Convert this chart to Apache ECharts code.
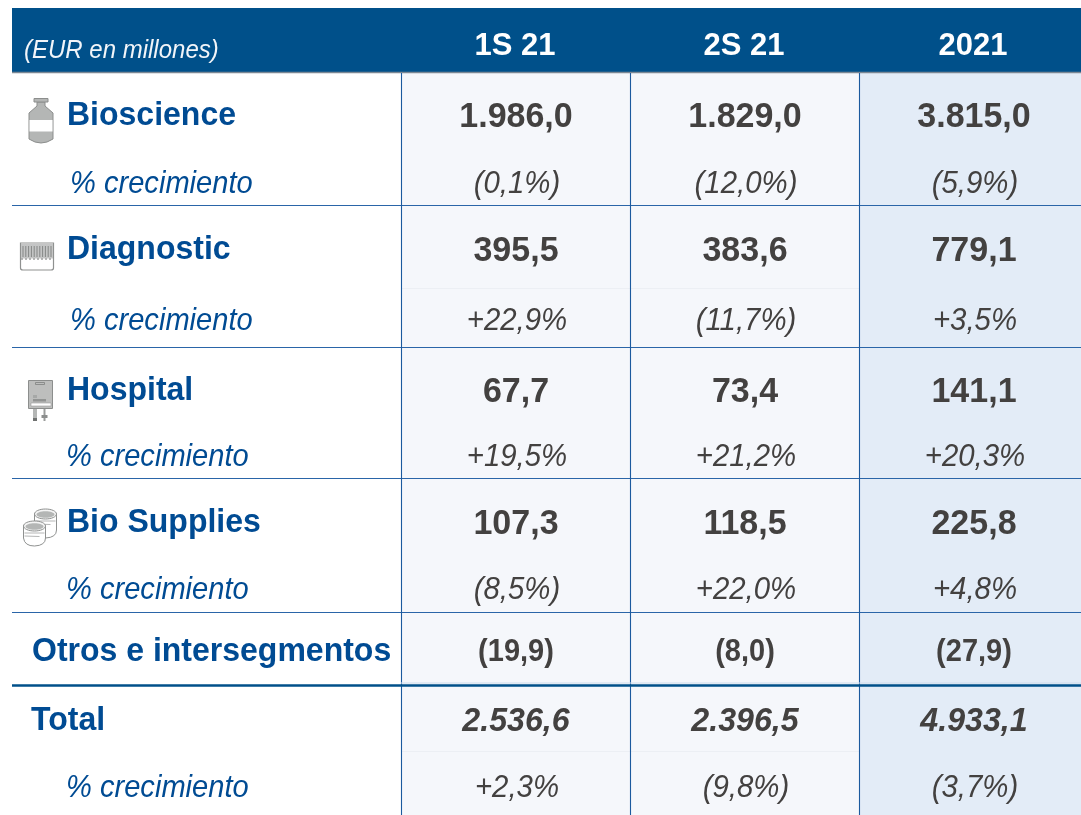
<!DOCTYPE html>
<html><head><meta charset="utf-8">
<style>html,body{margin:0;padding:0;background:#fff}#c{width:1081px;height:815px}</style>
<script src="https://cdn.jsdelivr.net/npm/echarts@6/dist/echarts.min.js"></script>
</head><body><div id="c"></div>
<script>
// ---- data ----
const unitLabel = '(EUR en millones)';
const periods = ['1S 21', '2S 21', '2021'];
const segments = ['Bioscience', 'Diagnostic', 'Hospital', 'Bio Supplies', 'Otros e intersegmentos', 'Total'];
const growthLabel = '% crecimiento';
const bioscience = ['1.986,0', '1.829,0', '3.815,0'];
const bioscienceGrowth = ['(0,1%)', '(12,0%)', '(5,9%)'];
const diagnostic = ['395,5', '383,6', '779,1'];
const diagnosticGrowth = ['+22,9%', '(11,7%)', '+3,5%'];
const hospital = ['67,7', '73,4', '141,1'];
const hospitalGrowth = ['+19,5%', '+21,2%', '+20,3%'];
const bioSupplies = ['107,3', '118,5', '225,8'];
const bioSuppliesGrowth = ['(8,5%)', '+22,0%', '+4,8%'];
const otros = ['(19,9)', '(8,0)', '(27,9)'];
const total = ['2.536,6', '2.396,5', '4.933,1'];
const totalGrowth = ['+2,3%', '(9,8%)', '(3,7%)'];

// ---- layout (table scale) ----
const W = 1081, H = 815, L = 12;
const colEdges = [401, 630, 859, 1081];
const colCentres = [516, 745, 974];
const headTop = 8, headBottom = 72;
const ruleYs = [205, 347, 478, 612];
const heavyY = 685.5;
const faintYs = [288, 751];
const BLUE = '#004B93', HEAD = '#00508A', INK = '#434140', RULE = '#2A65A8';
const F = '"Liberation Sans", Arial, sans-serif';
const NUDGE = 2;

const valueStyle = {size: 34, weight: 'bold', style: 'normal', color: INK, stretch: 1.04};
const growthStyle = {size: 29.4, weight: 'normal', style: 'italic', color: INK, stretch: 1.07};
const otrosStyle = {size: 29, weight: 'bold', style: 'normal', color: INK, stretch: 1.06};
const totalStyle = {size: 32.2, weight: 'bold', style: 'italic', color: INK, stretch: 1.06};
const segStyle = {size: 32, weight: 'bold', style: 'normal', color: BLUE, stretch: 1.04};
const growLblStyle = {size: 29.1, weight: 'normal', style: 'italic', color: BLUE, stretch: 1.07};

const texts = [];
function put(x, y, s, st, align) { texts.push([x, y + NUDGE, s, st.size, st.weight, st.style, st.color, align || 'center', st.stretch || 1]); }
function rowOf(y, vals, st) { vals.forEach((v, i) => put(colCentres[i] + (st === growthStyle ? 1 : 0), y, v, st)); }

put(24, 49, unitLabel, {size: 24, weight: 'normal', style: 'italic', color: '#F2F5F9', stretch: 1.05}, 'left');
periods.forEach((p, i) => put(colCentres[i] - 1, 44.5, p, {size: 31, weight: 'bold', style: 'normal', color: '#FFFFFF', stretch: 1.04}));

put(67, 114, segments[0], segStyle, 'left');
put(70, 182, growthLabel, growLblStyle, 'left');
rowOf(115, bioscience, valueStyle);
rowOf(182, bioscienceGrowth, growthStyle);

put(67, 248, segments[1], segStyle, 'left');
put(70, 319, growthLabel, growLblStyle, 'left');
rowOf(249, diagnostic, valueStyle);
rowOf(319, diagnosticGrowth, growthStyle);

put(67, 389, segments[2], segStyle, 'left');
put(66, 455, growthLabel, growLblStyle, 'left');
rowOf(390, hospital, valueStyle);
rowOf(455, hospitalGrowth, growthStyle);

put(67, 521, segments[3], segStyle, 'left');
put(66, 588, growthLabel, growLblStyle, 'left');
rowOf(522, bioSupplies, valueStyle);
rowOf(588, bioSuppliesGrowth, growthStyle);

put(32, 650, segments[4], segStyle, 'left');
rowOf(651, otros, otrosStyle);

put(31, 719, segments[5], segStyle, 'left');
put(66, 786, growthLabel, growLblStyle, 'left');
rowOf(720, total, totalStyle);
rowOf(786, totalGrowth, growthStyle);

// bands: x0,y0,x1,y1,colour
const bands = [
  [colEdges[0], headBottom, colEdges[2], H, '#F5F7FB'],
  [colEdges[2], headBottom, colEdges[3], H, '#E3ECF7'],
  [L, headTop, W, headBottom, HEAD]
];
// rules: x0,y0,x1,y1,colour,width
const rules = [[L, headBottom + 0.5, W, headBottom + 0.5, '#7C8894', 1.5]];
ruleYs.forEach(y => rules.push([L, y + 0.5, W, y + 0.5, RULE, 1.2]));
faintYs.forEach(y => rules.push([colEdges[0], y + 0.5, colEdges[2], y + 0.5, '#ECEFF4', 1]));
colEdges.slice(0, 3).forEach(x => rules.push([x + 0.5, headBottom + 1, x + 0.5, H, '#1B5A9E', 1.1]));
rules.push([colEdges[0], heavyY - 2.5, W, heavyY - 2.5, '#CFDDEC', 1]);
rules.push([L, heavyY, W, heavyY, HEAD, 2.5]);

const chart = echarts.init(document.getElementById('c'), null, {renderer: 'canvas'});

const G = '#B4B6B5', S = '#8C8E8D';
function lines(x0, x1, y0, y1, n, color) {
  const out = [];
  for (let i = 0; i < n; i++) {
    const x = x0 + (x1 - x0) * i / (n - 1);
    out.push({type: 'line', shape: {x1: x, y1: y0, x2: x, y2: y1}, style: {stroke: color, lineWidth: 1}});
  }
  return out;
}
function jar(cx, cy, bottom) {
  const l = cx - 11, r = cx + 11;
  return [
    {type: 'path', shape: {pathData: `M${l} ${cy}V${bottom - 8}Q${l + 1} ${bottom} ${cx} ${bottom}Q${r} ${bottom - 0.5} ${r} ${bottom - 8}V${cy}Z`, x: l, y: cy, width: 22, height: bottom - cy}, style: {fill: '#FFFFFF', stroke: '#8F9190', lineWidth: 1}},
    {type: 'ellipse', shape: {cx, cy, rx: 11, ry: 5}, style: {fill: '#F4F4F4', stroke: '#8F9190', lineWidth: 1}},
    {type: 'ellipse', shape: {cx, cy: cy + 0.5, rx: 9, ry: 3.2}, style: {fill: '#B4B6B5'}},
    {type: 'line', shape: {x1: l + 1, y1: cy + 7, x2: r - 1, y2: cy + 7}, style: {stroke: '#B5B6B6', lineWidth: 1}},
    {type: 'line', shape: {x1: l + 1, y1: cy + 10, x2: r - 6, y2: cy + 10.5}, style: {stroke: '#B5B6B6', lineWidth: 1}}
  ];
}
const icons = [
  // vial
  {type: 'path', shape: {pathData: 'M37 102H45V106L53 113V139Q47 143 41 143Q35 143 29 139V113L37 106Z', x: 29, y: 102, width: 24, height: 41}, style: {fill: G, stroke: S, lineWidth: 1}},
  {type: 'rect', shape: {x: 34, y: 98.5, width: 14, height: 3.5}, style: {fill: G, stroke: S, lineWidth: 1}},
  {type: 'rect', shape: {x: 29.5, y: 120, width: 23, height: 11.5}, style: {fill: '#FFFFFF'}},
  // diagnostic plate
  {type: 'path', shape: {pathData: 'M20.5 243H53.5V268Q53.5 270 51 270H23Q20.5 270 20.5 268Z', x: 20.5, y: 243, width: 33, height: 27}, style: {fill: '#FFFFFF', stroke: '#8F9190', lineWidth: 1.2}},
  {type: 'rect', shape: {x: 21, y: 243.5, width: 32, height: 15}, style: {fill: '#C4C5C5'}},
  ...lines(23, 51, 246, 257, 11, '#858786'),
  {type: 'line', shape: {x1: 21, y1: 259, x2: 53, y2: 259}, style: {stroke: '#A0A1A1', lineWidth: 1.5, lineDash: [2, 2]}},
  // hospital bag
  {type: 'rect', shape: {x: 33, y: 408, width: 4, height: 13}, style: {fill: '#B4B6B5'}},
  {type: 'rect', shape: {x: 33, y: 418, width: 4, height: 3}, style: {fill: '#6F7170'}},
  {type: 'rect', shape: {x: 43.5, y: 408, width: 2, height: 13}, style: {fill: '#9A9C9B'}},
  {type: 'rect', shape: {x: 41.5, y: 415, width: 6, height: 3}, style: {fill: '#8C8E8D'}},
  {type: 'rect', shape: {x: 28.5, y: 380.5, width: 24, height: 28}, style: {fill: '#BDBEBD', stroke: '#8C8E8D', lineWidth: 1}},
  {type: 'rect', shape: {x: 35.5, y: 382.5, width: 9, height: 2}, style: {fill: 'none', stroke: '#7E807F', lineWidth: 0.8}},
  {type: 'rect', shape: {x: 33, y: 399, width: 13, height: 2.5}, style: {fill: '#929493'}},
  {type: 'rect', shape: {x: 33, y: 395, width: 4, height: 3}, style: {fill: '#A6A8A7'}},
  {type: 'rect', shape: {x: 31, y: 403, width: 20, height: 3}, style: {fill: '#FFFFFF', stroke: '#9A9C9B', lineWidth: 0.6}},
  // bio supplies jars
  ...jar(45.5, 514, 538),
  ...jar(34.5, 526, 546)
];

chart.setOption({
  animation: false,
  backgroundColor: '#FFFFFF',
  grid: {left: 0, right: 0, top: 0, bottom: 0},
  xAxis: {type: 'value', min: 0, max: W, show: false},
  yAxis: {type: 'value', min: 0, max: H, inverse: true, show: false},
  series: [
    {type: 'custom', coordinateSystem: 'cartesian2d', z: 1, silent: true, clip: false,
      data: bands.map(b => b.slice(0, 4)), encode: {x: [0, 2], y: [1, 3]},
      renderItem: (p, api) => {
        const a = api.coord([api.value(0), api.value(1)]), b = api.coord([api.value(2), api.value(3)]);
        return {type: 'rect', shape: {x: a[0], y: a[1], width: b[0] - a[0], height: b[1] - a[1]},
          style: {fill: bands[p.dataIndex][4]}};
      }},
    {type: 'custom', coordinateSystem: 'cartesian2d', z: 2, silent: true, clip: false,
      data: rules.map(r => r.slice(0, 4)), encode: {x: [0, 2], y: [1, 3]},
      renderItem: (p, api) => {
        const a = api.coord([api.value(0), api.value(1)]), b = api.coord([api.value(2), api.value(3)]);
        const r = rules[p.dataIndex];
        return {type: 'line', shape: {x1: a[0], y1: a[1], x2: b[0], y2: b[1]},
          style: {stroke: r[4], lineWidth: r[5]}};
      }},
    {type: 'custom', coordinateSystem: 'cartesian2d', z: 3, silent: true, clip: false,
      data: texts.map(t => [t[0], t[1]]), encode: {x: 0, y: 1},
      renderItem: (p, api) => {
        const t = texts[p.dataIndex], a = api.coord([api.value(0), api.value(1)]);
        return {type: 'text', x: a[0], y: a[1], scaleY: t[8],
          style: {text: t[2], fill: t[6], align: t[7], verticalAlign: 'middle',
            font: `${t[5]} ${t[4]} ${t[3]}px ${F}`}};
      }},
    {type: 'custom', coordinateSystem: 'cartesian2d', z: 4, silent: true, clip: false,
      data: [[0, 0]], encode: {x: 0, y: 1},
      renderItem: () => ({type: 'group', children: icons})}
  ]
});
</script></body></html>
